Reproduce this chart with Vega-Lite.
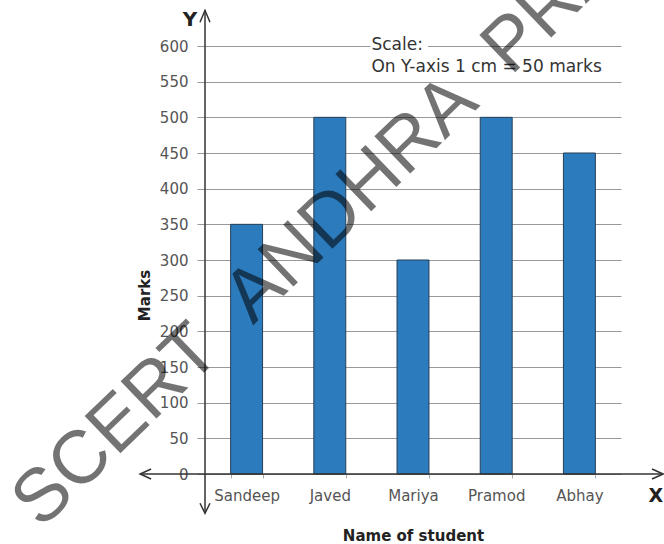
{
  "$schema": "https://vega.github.io/schema/vega-lite/v6.json",
  "width": 416,
  "height": 428,
  "autosize": {"type": "none"},
  "padding": {"left": 205, "top": 46, "right": 43, "bottom": 70},
  "background": "white",
  "config": {"view": {"stroke": null}, "font": "DejaVu Sans"},
  "data": {"values": [{}]},
  "datasets": {
    "students": [
      {"student": "Sandeep", "marks": 350},
      {"student": "Javed", "marks": 500},
      {"student": "Mariya", "marks": 300},
      {"student": "Pramod", "marks": 500},
      {"student": "Abhay", "marks": 450}
    ]
  },
  "layer": [
    {
      "data": {"name": "students"},
      "mark": {"type": "bar", "fill": "#2b7bbd", "stroke": "#263f57", "strokeWidth": 1},
      "encoding": {
        "x": {
          "field": "student", "type": "nominal", "sort": null,
          "scale": {"paddingInner": 0.616, "paddingOuter": 0.308},
          "axis": {
            "title": "Name of student", "labelAngle": 0, "domain": false,
            "ticks": true, "tickBand": "extent", "tickSize": 4, "tickColor": "#aaaaaa",
            "labelPadding": 10, "labelFont": "DejaVu Sans", "labelFontSize": 15, "labelColor": "#555555",
            "titleFont": "DejaVu Sans", "titleFontSize": 15, "titleFontWeight": "bold", "titleColor": "#222222",
            "titleY": 66, "titleBaseline": "alphabetic"
          }
        },
        "y": {
          "field": "marks", "type": "quantitative",
          "scale": {"domain": [0, 600], "nice": false},
          "axis": {
            "title": "Marks", "values": [0, 50, 100, 150, 200, 250, 300, 350, 400, 450, 500, 550, 600],
            "domain": false, "grid": true, "gridColor": "#999999", "gridWidth": 1,
            "tickColor": "#999999", "tickSize": 8, "labelPadding": 9,
            "labelFont": "DejaVu Sans", "labelFontSize": 15, "labelColor": "#555555",
            "titleFont": "DejaVu Sans", "titleFontSize": 15, "titleFontWeight": "bold", "titleColor": "#222222",
            "titleX": -56, "titleY": 249, "titleAlign": "center", "titleBaseline": "alphabetic", "titleAngle": -90
          }
        }
      }
    },
    {
      "mark": {"type": "rect", "fill": "white"},
      "encoding": {
        "x": {"datum": 0.398, "type": "quantitative", "scale": {"domain": [0, 1], "nice": false, "zero": false}, "axis": null},
        "x2": {"datum": 0.536},
        "y": {"datum": 592, "type": "quantitative", "scale": {"domain": [0, 600], "nice": false}, "axis": null},
        "y2": {"datum": 612}
      }
    },
    {
      "mark": {"type": "rule", "color": "#333333", "strokeWidth": 1.5},
      "encoding": {
        "x": {"datum": -0.156, "type": "quantitative", "scale": {"domain": [0, 1], "nice": false, "zero": false}, "axis": null},
        "x2": {"datum": 1.101},
        "y": {"datum": 0, "type": "quantitative", "scale": {"domain": [0, 600], "nice": false}, "axis": null}
      }
    },
    {
      "mark": {"type": "rule", "color": "#333333", "strokeWidth": 1.5},
      "encoding": {
        "x": {"datum": 0, "type": "quantitative", "scale": {"domain": [0, 1], "nice": false, "zero": false}, "axis": null},
        "y": {"datum": -55, "type": "quantitative", "scale": {"domain": [0, 600], "nice": false}, "axis": null},
        "y2": {"datum": 650}
      }
    },
    {
      "mark": {"type": "point", "shape": "M 11 -5 L 0 0 L 11 5", "size": 4, "filled": false, "stroke": "#333333", "strokeWidth": 1.5, "opacity": 1},
      "encoding": {
        "x": {"datum": -0.156, "type": "quantitative", "scale": {"domain": [0, 1], "nice": false, "zero": false}, "axis": null},
        "y": {"datum": 0, "type": "quantitative", "scale": {"domain": [0, 600], "nice": false}, "axis": null}
      }
    },
    {
      "mark": {"type": "point", "shape": "M -11 -5 L 0 0 L -11 5", "size": 4, "filled": false, "stroke": "#333333", "strokeWidth": 1.5, "opacity": 1},
      "encoding": {
        "x": {"datum": 1.101, "type": "quantitative", "scale": {"domain": [0, 1], "nice": false, "zero": false}, "axis": null},
        "y": {"datum": 0, "type": "quantitative", "scale": {"domain": [0, 600], "nice": false}, "axis": null}
      }
    },
    {
      "mark": {"type": "point", "shape": "M -5 12 L 0 0 L 5 12", "size": 4, "filled": false, "stroke": "#333333", "strokeWidth": 1.5, "opacity": 1},
      "encoding": {
        "x": {"datum": 0, "type": "quantitative", "scale": {"domain": [0, 1], "nice": false, "zero": false}, "axis": null},
        "y": {"datum": 650, "type": "quantitative", "scale": {"domain": [0, 600], "nice": false}, "axis": null}
      }
    },
    {
      "mark": {"type": "point", "shape": "M -5 -10 L 0 0 L 5 -10", "size": 4, "filled": false, "stroke": "#333333", "strokeWidth": 1.5, "opacity": 1},
      "encoding": {
        "x": {"datum": 0, "type": "quantitative", "scale": {"domain": [0, 1], "nice": false, "zero": false}, "axis": null},
        "y": {"datum": -55, "type": "quantitative", "scale": {"domain": [0, 600], "nice": false}, "axis": null}
      }
    },
    {
      "mark": {"type": "text", "text": "Y", "font": "DejaVu Sans", "fontSize": 20, "fontWeight": "bold", "color": "#222222", "align": "center", "baseline": "middle"},
      "encoding": {
        "x": {"datum": -0.036, "type": "quantitative", "scale": {"domain": [0, 1], "nice": false, "zero": false}, "axis": null},
        "y": {"datum": 636, "type": "quantitative", "scale": {"domain": [0, 600], "nice": false}, "axis": null}
      }
    },
    {
      "mark": {"type": "text", "text": "X", "font": "DejaVu Sans", "fontSize": 19, "fontWeight": "bold", "color": "#222222", "align": "center", "baseline": "middle"},
      "encoding": {
        "x": {"datum": 1.084, "type": "quantitative", "scale": {"domain": [0, 1], "nice": false, "zero": false}, "axis": null},
        "y": {"datum": -31, "type": "quantitative", "scale": {"domain": [0, 600], "nice": false}, "axis": null}
      }
    },
    {
      "mark": {"type": "text", "text": "Scale:", "font": "DejaVu Sans", "fontSize": 17, "color": "#333333", "align": "left", "baseline": "middle"},
      "encoding": {
        "x": {"datum": 0.4, "type": "quantitative", "scale": {"domain": [0, 1], "nice": false, "zero": false}, "axis": null},
        "y": {"datum": 601, "type": "quantitative", "scale": {"domain": [0, 600], "nice": false}, "axis": null}
      }
    },
    {
      "mark": {"type": "text", "text": "On Y-axis 1 cm = 50 marks", "font": "DejaVu Sans", "fontSize": 17, "color": "#333333", "align": "left", "baseline": "middle"},
      "encoding": {
        "x": {"datum": 0.4, "type": "quantitative", "scale": {"domain": [0, 1], "nice": false, "zero": false}, "axis": null},
        "y": {"datum": 571, "type": "quantitative", "scale": {"domain": [0, 600], "nice": false}, "axis": null}
      }
    },
    {
      "mark": {"type": "text", "text": "SCERT\u00a0\u00a0ANDHRA\u00a0\u00a0PRADESH", "font": "Liberation Sans", "fontSize": 75, "fontWeight": "normal", "fill": "#000000", "fillOpacity": 0.55, "angle": -44, "align": "left", "baseline": "alphabetic"},
      "encoding": {
        "x": {"datum": -0.394, "type": "quantitative", "scale": {"domain": [0, 1], "nice": false, "zero": false}, "axis": null},
        "y": {"datum": -78.5, "type": "quantitative", "scale": {"domain": [0, 600], "nice": false}, "axis": null}
      }
    }
  ],
  "resolve": {"scale": {"x": "independent", "y": "independent"}}
}
